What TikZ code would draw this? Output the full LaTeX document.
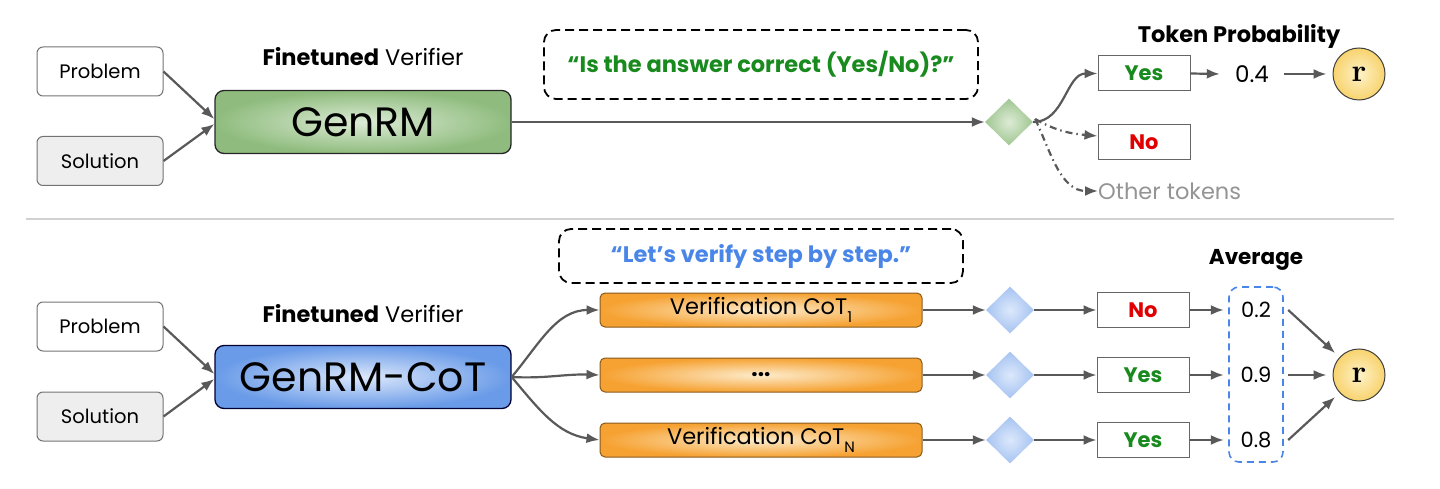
\documentclass[tikz,border=0pt]{standalone}
\usepackage{fontspec}
\setmainfont{Poppins}
\newfontfamily\rfont{Latin Modern Roman}
\usepackage{xcolor}
\usetikzlibrary{positioning, shapes.geometric, arrows.meta}

\definecolor{arrgray}{HTML}{595959}
\definecolor{solgray}{HTML}{EEEEEE}
\definecolor{greenin}{HTML}{DDEBD6}
\definecolor{greenout}{HTML}{8FBC7E}
\definecolor{bluein}{HTML}{DCE8FB}
\definecolor{blueout}{HTML}{6A9BE8}
\definecolor{orangein}{HTML}{FDEBCB}
\definecolor{orangeout}{HTML}{F6A232}
\definecolor{qgreen}{HTML}{188A1E}
\definecolor{qblue}{HTML}{4A86E8}
\definecolor{nored}{HTML}{E00000}
\definecolor{rin}{HTML}{FEF2C8}
\definecolor{rout}{HTML}{F8D36E}

\newcommand{\lowsub}[1]{\raisebox{-0.32em}{\fontsize{15}{18}\selectfont #1}}

\tikzset{
  inbox/.style={draw=black!55, rounded corners=6pt, line width=1pt, minimum width=126pt, minimum height=49pt, font=\fontsize{19.5}{22}\selectfont},
  verifier/.style={draw=black!85, rounded corners=9pt, line width=1.3pt, minimum width=296pt, minimum height=63pt, font=\fontsize{41}{46}\selectfont},
  caption/.style={font=\fontsize{22.5}{26}\selectfont},
  prompt/.style={draw=black, line width=1.8pt, dash pattern=on 9pt off 5pt, rounded corners=12pt, font=\fontsize{22.5}{26}\selectfont\bfseries},
  choice/.style={diamond, aspect=1, inner sep=0pt, minimum width=48pt, minimum height=47pt},
  tokbox/.style={draw=black!60, line width=1pt, minimum width=92pt, minimum height=35pt, font=\fontsize{21}{24}\selectfont\bfseries},
  cotbox/.style={draw=black!45!orangeout, line width=1pt, rounded corners=5pt, minimum width=322pt, minimum height=34pt, inner color=orangein, outer color=orangeout, font=\fontsize{22.5}{26}\selectfont},
  val/.style={inner sep=0pt, minimum width=64pt, font=\fontsize{21}{24}\selectfont},
  reward/.style={circle, draw=black!75, line width=1pt, minimum size=52pt, inner sep=0pt, inner color=rin, outer color=rout, font=\fontsize{32}{34}\rfont\bfseries},
  arr/.style={draw=arrgray, line width=2.2pt, -{Latex[length=13pt, width=10pt]}},
  dashdot/.style={arr, dash pattern=on 7pt off 4pt on 1.5pt off 4pt},
}

\begin{document}
\begin{tikzpicture}[x=1pt, y=-1pt]
  \useasboundingbox (0,0) rectangle (1440,489);

  % top row: GenRM
  \node[inbox] (prob1) at (100,71.5) {Problem};
  \node[inbox, fill=solgray] (sol1) at (100,161) {Solution};
  \node[verifier, inner color=greenin, outer color=greenout] (genrm) at (363,122) {GenRM};
  \node[caption] (fv1) at (363,57) {\textbf{Finetuned} Verifier};
  \node[prompt, text=qgreen, minimum width=434pt, minimum height=69pt] (ask1) at (761,64.5) {“Is the answer correct (Yes/No)?”};
  \node[choice, inner color=greenin, outer color=greenout!85] (dia1) at (1009,122) {};
  \node[tokbox, text=qgreen] (yes1) at (1144,73.5) {Yes};
  \node[tokbox, text=nored] (no1) at (1144,142) {No};
  \node[anchor=west, inner sep=0pt, text=black!42, font=\fontsize{22.5}{26}\selectfont] (oth) at (1098,191) {Other tokens};
  \node[val, font=\fontsize{23}{26}\selectfont] (p1) at (1252,74) {0.4};
  \node[reward] (r1) at (1359,74) {r};
  \node[caption, font=\fontsize{22.5}{26}\selectfont\bfseries] (tp) at (1239,36) {Token Probability};

  \draw[arr] (prob1.east) -- ([yshift=3pt]genrm.west);
  \draw[arr] (sol1.east) -- ([yshift=-2pt]genrm.west);
  \draw[arr] (genrm.east) -- (dia1.west);
  \draw[arr] (dia1.east) to[out=0, in=180] (yes1.west);
  \draw[dashdot] ([xshift=2pt, yshift=3pt]dia1.east) to[out=-30, in=175] ([yshift=6pt]no1.west);
  \draw[dashdot] ([xshift=2pt, yshift=3pt]dia1.east) to[out=-65, in=180] (oth.west);
  \draw[arr] (yes1.east) -- (p1.west);
  \draw[arr, shorten >=6pt] (p1.east) -- (r1);

  % divider
  \draw[black!18, line width=1.2pt] (26,219) -- (1394,219);

  % bottom row: GenRM-CoT
  \node[inbox] (prob2) at (100,326.5) {Problem};
  \node[inbox, fill=solgray] (sol2) at (100,416.5) {Solution};
  \node[verifier, draw=blue!20!black, inner color=bluein, outer color=blueout] (gencot) at (363,377) {GenRM-CoT};
  \node[caption] (fv2) at (363,314) {\textbf{Finetuned} Verifier};
  \node[prompt, text=qblue, minimum width=404pt, minimum height=54pt] (ask2) at (761,256) {“Let’s verify step by step.”};

  \node[cotbox] (cot1) at (761,310) {Verification CoT\lowsub{1}};
  \node[cotbox] (cot2) at (761,375) {\textbf{...}};
  \node[cotbox] (cot3) at (761,440) {Verification CoT\lowsub{N}};

  \node[choice, inner color=bluein, outer color=blueout!60] (dia2) at (1010,310) {};
  \node[choice, inner color=bluein, outer color=blueout!60] (dia3) at (1010,375) {};
  \node[choice, inner color=bluein, outer color=blueout!60] (dia4) at (1010,440) {};

  \node[tokbox, text=nored] (ans1) at (1143,310) {No};
  \node[tokbox, text=qgreen] (ans2) at (1143,375) {Yes};
  \node[tokbox, text=qgreen] (ans3) at (1143,440) {Yes};

  \node[val] (v1) at (1256,310) {0.2};
  \node[val] (v2) at (1256,375) {0.9};
  \node[val] (v3) at (1256,440) {0.8};
  \node[draw=qblue, line width=1.6pt, dash pattern=on 7pt off 5pt, rounded corners=10pt, minimum width=54pt, minimum height=175pt] (avg) at (1256,374.5) {};
  \node[caption, font=\fontsize{21.5}{26}\selectfont\bfseries] (avgt) at (1256,260) {Average};
  \node[reward] (r2) at (1359,375) {r};

  \draw[arr] (prob2.east) -- ([yshift=3pt]gencot.west);
  \draw[arr] (sol2.east) -- ([yshift=-2pt]gencot.west);
  \draw[arr] (gencot.east) to[out=50, in=180] (cot1.west);
  \draw[arr] (gencot.east) to[out=-3, in=178] (cot2.west);
  \draw[arr] (gencot.east) to[out=-50, in=172] (cot3.west);

  \foreach \i/\j/\k/\m in {1/2/1/1, 2/3/2/2, 3/4/3/3} {
    \draw[arr] (cot\i.east) -- (dia\j.west);
    \draw[arr] (dia\j.east) -- (ans\k.west);
    \draw[arr] (ans\k.east) -- (v\m.west);
    \draw[arr, shorten >=6pt] (v\m.east) -- (r2);
  }
\end{tikzpicture}
\end{document}
